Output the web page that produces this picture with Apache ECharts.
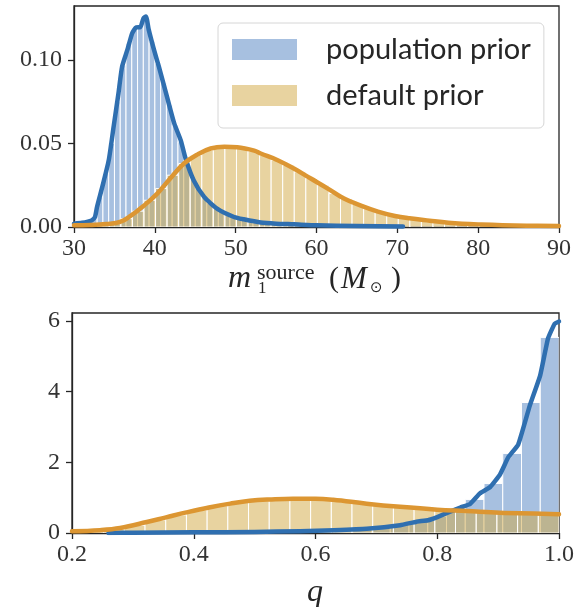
<!DOCTYPE html>
<html><head><meta charset="utf-8">
<script src="https://cdn.jsdelivr.net/npm/echarts@6/dist/echarts.min.js"></script>
<style>html,body{margin:0;padding:0;background:#fff}#c{width:586px;height:607px}</style>
</head><body><div id="c"></div>
<script>
// ---------- data: top panel (m1 source) ----------
const m1TickLabels = [30, 40, 50, 60, 70, 80, 90];
const m1YTicks = [0, 0.05, 0.10];
const m1PopBinStart = 32.15, m1PopBinWidth = 0.714;
const m1PopHist = [0.006,0.018,0.032,0.050,0.075,0.097,0.110,0.118,0.120,0.124,0.111,0.098,0.086,0.073,0.061,0.051,0.040,0.030,0.023,0.018,0.014,0.0115,0.009,0.0075,0.0062,0.0052,0.0045,0.0036,0.003,0.0025,0.002,0.0017,0.0014,0.0012];
const m1DefBinStart = 27.22, m1DefBinWidth = 1.43;
const m1DefHist = [0.0008,0.001,0.001,0.0012,0.0016,0.0025,0.005,0.0095,0.016,0.023,0.031,0.038,0.043,0.046,0.048,0.048,0.047,0.0455,0.043,0.040,0.037,0.033,0.029,0.025,0.020,0.017,0.0135,0.011,0.0087,0.007,0.0058,0.0048,0.0038,0.003,0.0024,0.0019,0.0015,0.0012,0.001,0.0008,0.0006,0.0005,0.0004,0.0003];
const m1PopKdeX = [30,31,31.6,32.2,32.6,32.85,33.5,34.3,34.9,35.5,35.95,36.6,37.2,37.7,38.2,38.6,38.9,39.25,39.9,40.5,41.5,42.4,43.2,43.8,44.8,46.1,47.7,49.8,51,53.1,55,57.2,60,65,70.7];
const m1PopKdeY = [0.002,0.0025,0.003,0.004,0.006,0.012,0.024,0.040,0.060,0.080,0.096,0.106,0.116,0.1195,0.1196,0.125,0.126,0.118,0.106,0.096,0.078,0.062,0.052,0.041,0.028,0.018,0.011,0.006,0.0046,0.0027,0.002,0.0016,0.001,0.0006,0.0003];
const m1DefKdeX = [30,32,34,35.7,37,38.6,40.3,41.9,43.6,45.3,46.9,48.6,50.2,52.3,53.1,55.2,57.2,59.3,61.4,63.4,65.5,67.6,69.7,71.5,74,76.3,78,80.4,83,86,90];
const m1DefKdeY = [0.001,0.0012,0.0018,0.003,0.0066,0.0126,0.020,0.029,0.038,0.0435,0.047,0.048,0.0477,0.0457,0.044,0.040,0.035,0.029,0.023,0.017,0.0128,0.0092,0.0066,0.0052,0.0038,0.0026,0.002,0.0015,0.0011,0.0008,0.0006];

// ---------- data: bottom panel (q) ----------
const qTickLabels = [0.2, 0.4, 0.6, 0.8, 1.0];
const qYTicks = [0, 2, 4, 6];
const qPopBinStart = 0.1992, qPopBinWidth = 0.0308;
const qPopHist = [0,0,0.003,0.005,0.01,0.015,0.02,0.03,0.035,0.04,0.05,0.06,0.07,0.08,0.10,0.13,0.18,0.25,0.34,0.47,0.68,0.95,1.40,2.25,3.69,5.53];
const qDefBinStart = 0.184, qDefBinWidth = 0.034;
const qDefHist = [0.04,0.06,0.11,0.22,0.37,0.51,0.65,0.77,0.86,0.93,0.96,0.97,0.955,0.92,0.85,0.78,0.73,0.69,0.65,0.62,0.59,0.565,0.55,0.535];
const qPopKdeX = [0.26,0.30,0.40,0.50,0.575,0.63,0.684,0.739,0.766,0.785,0.80,0.821,0.838,0.854,0.870,0.887,0.903,0.917,0.933,0.952,0.969,0.982,0.993,1.0];
const qPopKdeY = [0.0,0.01,0.02,0.03,0.05,0.08,0.12,0.22,0.32,0.36,0.45,0.6,0.72,0.82,1.12,1.3,1.65,2.15,2.5,3.6,4.45,5.5,5.92,5.98];
const qDefKdeX = [0.2,0.246,0.279,0.323,0.356,0.39,0.425,0.46,0.492,0.528,0.563,0.6,0.629,0.684,0.739,0.80,0.848,0.903,0.958,1.0];
const qDefKdeY = [0.05,0.08,0.14,0.31,0.45,0.59,0.72,0.83,0.91,0.95,0.97,0.97,0.94,0.83,0.74,0.66,0.62,0.57,0.55,0.53];

const legendNames = ['population prior', 'default prior'];

// ---------- styles ----------
const POP_FILL = 'rgba(79,129,193,0.5)';
const DEF_FILL = 'rgba(209,167,65,0.5)';
const POP_LINE = '#2f6fb0';
const DEF_LINE = '#dc9632';
const AX = '#262626';
const SERIF = "'Liberation Serif','DejaVu Serif',serif";

function bins(start, width, vals) {
  return vals.map((v, i) => [start + i * width, start + (i + 1) * width, v]);
}
function pairs(xs, ys) { return xs.map((x, i) => [x, ys[i]]); }

function histSeries(name, idx, data, fill) {
  return {
    type: 'custom', name: name, xAxisIndex: idx, yAxisIndex: idx,
    clip: true, itemStyle: { color: fill },
    encode: { x: [0, 1], y: 2 },
    data: data,
    renderItem: function (params, api) {
      const p0 = api.coord([api.value(0), api.value(2)]);
      const p1 = api.coord([api.value(1), 0]);
      const cs = params.coordSys;
      let x0 = Math.max(p0[0], cs.x), x1 = Math.min(p1[0], cs.x + cs.width);
      if (x1 <= x0) return null;
      return {
        type: 'rect',
        shape: { x: x0, y: p0[1], width: x1 - x0, height: p1[1] - p0[1] },
        style: { fill: fill, stroke: '#ffffff', lineWidth: 1 }
      };
    }
  };
}
function lineSeries(name, idx, data, color, smooth) {
  return {
    type: 'line', name: name, xAxisIndex: idx, yAxisIndex: idx,
    data: data, showSymbol: false, smooth: smooth, clip: true,
    lineStyle: { color: color, width: 4.5, cap: 'round', join: 'round' },
    z: 5
  };
}

const tickLabel = { fontFamily: SERIF, fontSize: 24, color: '#333' };

function xAx(idx, ticks, dec) {
  return {
    type: 'value', gridIndex: idx, min: ticks[0], max: ticks[ticks.length - 1],
    axisLine: { show: true, lineStyle: { color: AX, width: 1.3 } },
    axisTick: { show: true, length: 6, customValues: ticks, lineStyle: { color: AX, width: 1.3 } },
    axisLabel: Object.assign({ margin: 10, customValues: ticks, formatter: v => v.toFixed(dec) }, tickLabel),
    splitLine: { show: false }
  };
}
function yAx(idx, max, ticks, dec) {
  return {
    type: 'value', gridIndex: idx, min: 0, max: max,
    axisLine: { show: true, lineStyle: { color: AX, width: 1.3 } },
    axisTick: { show: true, length: 6, customValues: ticks, lineStyle: { color: AX, width: 1.3 } },
    axisLabel: Object.assign({ margin: 12, customValues: ticks, formatter: v => v.toFixed(dec) }, tickLabel),
    splitLine: { show: false }
  };
}

const chart = echarts.init(document.getElementById('c'), null, { renderer: 'canvas' });
chart.setOption({
  animation: false,
  backgroundColor: '#fff',
  grid: [
    { left: 74, top: 6, width: 485, height: 221, show: true, borderColor: AX, borderWidth: 1.3, backgroundColor: 'transparent' },
    { left: 72, top: 313, width: 487, height: 220, show: true, borderColor: AX, borderWidth: 1.3, backgroundColor: 'transparent' }
  ],
  xAxis: [ xAx(0, m1TickLabels, 0), xAx(1, qTickLabels, 1) ],
  yAxis: [ yAx(0, 0.1323, m1YTicks, 2), yAx(1, 6.22, qYTicks, 0) ],
  legend: {
    data: legendNames,
    orient: 'vertical', left: 218, top: 23,
    itemWidth: 65, itemHeight: 21, itemGap: 17,
    icon: 'rect',
    padding: [12, 13, 18, 14],
    borderColor: '#d6d6d6', borderWidth: 1, borderRadius: 5,
    backgroundColor: 'rgba(255,255,255,0.8)',
    selectedMode: false,
    textStyle: { fontFamily: "Lato, 'DejaVu Sans', sans-serif", fontSize: 29, color: '#262626', padding: [0, 0, 0, 24], lineHeight: 26 }
  },
  series: [
    histSeries(legendNames[0], 0, bins(m1PopBinStart, m1PopBinWidth, m1PopHist), POP_FILL),
    histSeries(legendNames[1], 0, bins(m1DefBinStart, m1DefBinWidth, m1DefHist), DEF_FILL),
    lineSeries('pop kde m1', 0, pairs(m1PopKdeX, m1PopKdeY), POP_LINE, 0.2),
    lineSeries('def kde m1', 0, pairs(m1DefKdeX, m1DefKdeY), DEF_LINE, 0.4),
    histSeries(legendNames[0], 1, bins(qPopBinStart, qPopBinWidth, qPopHist), POP_FILL),
    histSeries(legendNames[1], 1, bins(qDefBinStart, qDefBinWidth, qDefHist), DEF_FILL),
    lineSeries('pop kde q', 1, pairs(qPopKdeX, qPopKdeY), POP_LINE, 0.12),
    lineSeries('def kde q', 1, pairs(qDefKdeX, qDefKdeY), DEF_LINE, 0.4)
  ],
  graphic: [
    { type: 'text', left: 228, top: 263, style: { text: 'm', font: "italic 32px " + SERIF, fill: '#262626' } },
    { type: 'text', left: 257, top: 262, style: { text: 'source', font: "22px " + SERIF, fill: '#262626' } },
    { type: 'text', left: 258, top: 280, style: { text: '1', font: "17px " + SERIF, fill: '#262626' } },
    { type: 'text', left: 329, top: 264, style: { text: '(', font: "30px " + SERIF, fill: '#262626' } },
    { type: 'text', left: 341, top: 264, style: { text: 'M', font: "italic 31px " + SERIF, fill: '#262626' } },
    { type: 'text', left: 370, top: 281, style: { text: '\u2299', font: "15px 'DejaVu Sans', sans-serif", fill: '#262626' } },
    { type: 'text', left: 391, top: 264, style: { text: ')', font: "30px " + SERIF, fill: '#262626' } },
    { type: 'text', left: 307, top: 577, style: { text: 'q', font: "italic 32px " + SERIF, fill: '#262626' } }
  ]
});
</script>
</body></html>
